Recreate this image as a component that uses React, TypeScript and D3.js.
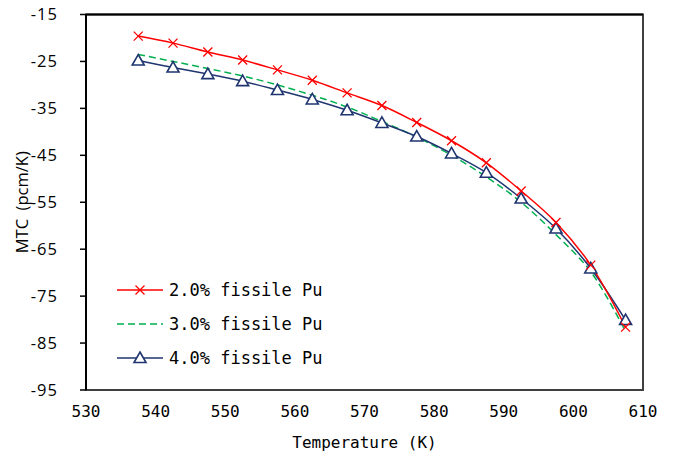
import { useEffect, useRef } from "react";
import * as d3 from "d3";

const temps = [537.5, 542.5, 547.5, 552.5, 557.5, 562.5, 567.5, 572.5, 577.5, 582.5, 587.5, 592.5, 597.5, 602.5, 607.5];
const pu20 = [-19.6, -21.1, -23.0, -24.7, -26.8, -29.0, -31.7, -34.4, -38.0, -41.9, -46.6, -52.6, -59.3, -68.4, -81.6];
const pu30 = [-23.5, -25.0, -26.5, -28.1, -30.0, -32.2, -34.7, -37.8, -41.1, -45.0, -49.6, -55.0, -61.9, -69.8, -82.5];
const pu40 = [-24.8, -26.3, -27.7, -29.2, -31.1, -33.1, -35.4, -38.1, -41.0, -44.6, -48.7, -54.2, -60.6, -69.1, -80.1];
const xTicks = [530, 540, 550, 560, 570, 580, 590, 600, 610];
const yTicks = [-15, -25, -35, -45, -55, -65, -75, -85, -95];
const seriesNames = ["2.0% fissile Pu", "3.0% fissile Pu", "4.0% fissile Pu"];

const W = 673;
const H = 458;
const mono = "'DejaVu Sans Mono', 'Liberation Mono', monospace";
const sans = "'Open Sans', 'Noto Sans', sans-serif";

export default function App() {
  const ref = useRef<SVGSVGElement>(null);

  useEffect(() => {
    const svg = d3.select(ref.current);
    svg.selectAll("*").remove();

    const m = { left: 86, right: 643, top: 14.5, bottom: 390 };
    const x = d3.scaleLinear().domain([530, 610]).range([m.left, m.right]);
    const y = d3.scaleLinear().domain([-95, -15]).range([m.bottom, m.top]);

    svg.append("rect").attr("width", W).attr("height", H).attr("fill", "#fff");

    // frame
    svg.append("rect")
      .attr("x", m.left).attr("y", m.top)
      .attr("width", m.right - m.left).attr("height", m.bottom - m.top)
      .attr("fill", "none").attr("stroke", "#404040").attr("stroke-width", 2);
    svg.append("line")
      .attr("x1", m.left).attr("x2", m.left).attr("y1", m.top).attr("y2", m.bottom)
      .attr("stroke", "#000").attr("stroke-width", 2);
    svg.append("line")
      .attr("x1", m.left).attr("x2", m.right).attr("y1", m.top).attr("y2", m.top)
      .attr("stroke", "#000").attr("stroke-width", 2);

    // y ticks
    const yg = svg.append("g");
    yTicks.forEach((t) => {
      yg.append("line")
        .attr("x1", m.left - 6).attr("x2", m.left).attr("y1", y(t)).attr("y2", y(t))
        .attr("stroke", "#000").attr("stroke-width", 1.5);
      yg.append("text")
        .attr("x", m.left - 28).attr("y", y(t)).attr("dy", "0.35em")
        .attr("text-anchor", "end")
        .style("font-family", sans).style("font-size", "16.5px")
        .style("letter-spacing", "1px")
        .text(t);
    });

    // x tick labels
    xTicks.forEach((t) => {
      svg.append("text")
        .attr("x", x(t)).attr("y", m.bottom + 21).attr("dy", "0.35em")
        .attr("text-anchor", "middle")
        .style("font-family", mono).style("font-size", "16px")
        .text(t);
    });

    svg.append("text")
      .attr("x", (m.left + m.right) / 2).attr("y", 442).attr("dy", "0.35em")
      .attr("text-anchor", "middle")
      .style("font-family", mono).style("font-size", "16px")
      .text("Temperature (K)");

    svg.append("text")
      .attr("transform", `translate(22,${(m.top + m.bottom) / 2}) rotate(-90)`)
      .attr("dy", "0.35em")
      .attr("text-anchor", "middle")
      .style("font-family", sans).style("font-size", "16.5px")
      .text("MTC\u00a0\u00a0(pcm/K)");

    const line = d3.line<number>()
      .x((_, i) => x(temps[i]))
      .y((d) => y(d))
      .curve(d3.curveCatmullRom.alpha(0.5));

    svg.append("path").datum(pu30)
      .attr("d", line).attr("fill", "none")
      .attr("stroke", "#00B050").attr("stroke-width", 1.5).attr("stroke-dasharray", "7,4");
    svg.append("path").datum(pu40)
      .attr("d", line).attr("fill", "none")
      .attr("stroke", "#1F3570").attr("stroke-width", 1.5);
    svg.append("path").datum(pu20)
      .attr("d", line).attr("fill", "none")
      .attr("stroke", "#FF0000").attr("stroke-width", 1.5);

    const cross = (g: d3.Selection<SVGGElement, unknown, null, undefined>, cx: number, cy: number) => {
      const s = 4.5;
      g.append("path")
        .attr("d", `M${cx - s},${cy - s}L${cx + s},${cy + s}M${cx - s},${cy + s}L${cx + s},${cy - s}`)
        .attr("stroke", "#FF0000").attr("stroke-width", 1.3).attr("fill", "none");
    };
    const tri = (g: d3.Selection<SVGGElement, unknown, null, undefined>, cx: number, cy: number) => {
      g.append("path")
        .attr("d", `M${cx},${cy - 6}L${cx + 6},${cy + 4.5}L${cx - 6},${cy + 4.5}Z`)
        .attr("stroke", "#1F3570").attr("stroke-width", 1.6).attr("fill", "#fff");
    };

    const mk = svg.append("g");
    pu40.forEach((v, i) => tri(mk, x(temps[i]), y(v)));
    pu20.forEach((v, i) => cross(mk, x(temps[i]), y(v)));

    // legend
    const lg = svg.append("g");
    const ly = [290, 324, 358];
    const colors = ["#FF0000", "#00B050", "#1F3570"];
    seriesNames.forEach((name, i) => {
      const l = lg.append("line")
        .attr("x1", 117).attr("x2", 163).attr("y1", ly[i]).attr("y2", ly[i])
        .attr("stroke", colors[i]).attr("stroke-width", 1.5);
      if (i === 1) l.attr("stroke-dasharray", "7,4");
      if (i === 0) cross(lg, 140, ly[i]);
      if (i === 2) tri(lg, 140, ly[i]);
      lg.append("text")
        .attr("x", 169).attr("y", ly[i]).attr("dy", "0.35em")
        .style("font-family", mono).style("font-size", "17px")
        .text(name);
    });
  }, []);

  return (
    <svg ref={ref} width={W} height={H} style={{ position: "absolute", left: 0, top: 0 }} />
  );
}
